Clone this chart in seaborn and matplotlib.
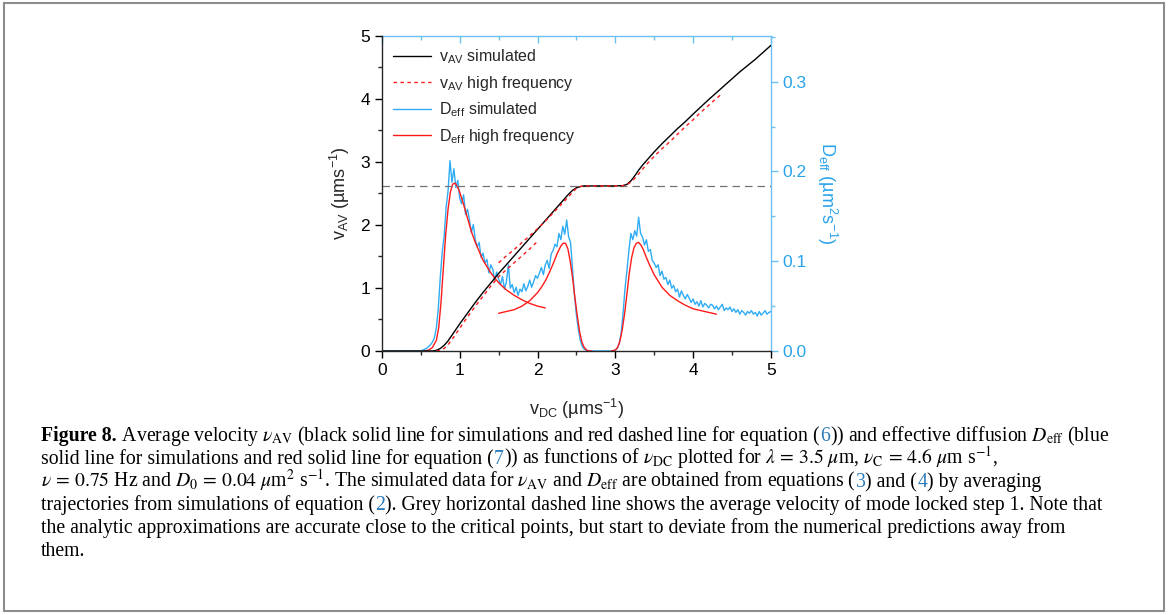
import numpy as np
import matplotlib
matplotlib.use("Agg")
import matplotlib.pyplot as plt
import seaborn as sns
from matplotlib.ticker import MultipleLocator
from matplotlib.lines import Line2D
from matplotlib.patches import Rectangle

# ---- data ----
# average velocity, simulated (black)
vav_sim_x = [0.0, 0.5, 0.6, 0.65, 0.7, 0.75, 0.8, 0.85, 0.9, 0.95, 1.0, 1.1, 1.2, 1.3, 1.4,
             1.5, 1.6, 1.7, 1.8, 1.9, 2.0, 2.1, 2.2, 2.3, 2.35, 2.4, 2.45, 2.5, 2.55, 2.6,
             2.8, 3.0, 3.1, 3.15, 3.2, 3.25, 3.3, 3.35, 3.4, 3.5, 3.6, 3.7, 3.8, 3.9, 4.0,
             4.2, 4.4, 4.6, 4.8, 5.0]
vav_sim_y = [0.0, 0.0, 0.0, 0.0, 0.01, 0.04, 0.09, 0.16, 0.25, 0.34, 0.43, 0.60, 0.77, 0.93, 1.08,
             1.23, 1.37, 1.51, 1.65, 1.79, 1.93, 2.07, 2.21, 2.35, 2.42, 2.49, 2.55, 2.59, 2.61, 2.62,
             2.62, 2.62, 2.625, 2.645, 2.70, 2.78, 2.87, 2.95, 3.02, 3.16, 3.29, 3.41, 3.53, 3.64, 3.76,
             3.99, 4.21, 4.43, 4.63, 4.85]

# average velocity, high frequency approximation (red dashed), two branches
vav_hf1_x = [0.7, 0.75, 0.8, 0.85, 0.9, 0.95, 1.0, 1.1, 1.2, 1.3, 1.4, 1.5, 1.6, 1.7, 1.8, 1.9, 2.0]
vav_hf1_y = [0.0, 0.01, 0.04, 0.10, 0.18, 0.27, 0.36, 0.54, 0.71, 0.87, 1.03, 1.18, 1.29, 1.40, 1.51, 1.62, 1.74]
vav_hf2_x = [1.5, 1.6, 1.7, 1.8, 1.9, 2.0, 2.1, 2.2, 2.3, 2.4, 2.45, 2.5, 2.55, 2.6, 2.8, 3.0,
             3.1, 3.15, 3.2, 3.25, 3.3, 3.4, 3.5, 3.6, 3.7, 3.8, 3.9, 4.0, 4.1, 4.2, 4.3, 4.35]
vav_hf2_y = [1.40, 1.51, 1.61, 1.72, 1.83, 1.94, 2.06, 2.19, 2.32, 2.45, 2.52, 2.58, 2.61, 2.62, 2.62, 2.62,
             2.625, 2.64, 2.68, 2.74, 2.81, 2.96, 3.09, 3.21, 3.32, 3.44, 3.56, 3.67, 3.79, 3.90, 4.01, 4.06]

# effective diffusion, simulated (blue), sampled every 0.025 from 0 to 5
deff_sim_y = [
    0, 0, 0, 0, 0, 0, 0, 0, 0, 0,
    0, 0, 0, 0, 0, 0, 0, 0, 0, 0,
    0.000, 0.001, 0.002, 0.003, 0.005, 0.007, 0.010, 0.015, 0.026, 0.048,
    0.082, 0.110, 0.128, 0.160, 0.178, 0.212, 0.188, 0.203, 0.182, 0.190,
    0.170, 0.164, 0.174, 0.152, 0.158, 0.146, 0.132, 0.141, 0.124, 0.116,
    0.121, 0.104, 0.109, 0.098, 0.102, 0.087, 0.096, 0.091, 0.079, 0.088,
    0.080, 0.074, 0.083, 0.069, 0.077, 0.096, 0.070, 0.074, 0.065, 0.071,
    0.062, 0.069, 0.066, 0.075, 0.067, 0.072, 0.079, 0.071, 0.077, 0.084,
    0.081, 0.087, 0.093, 0.085, 0.096, 0.101, 0.092, 0.108, 0.112, 0.119,
    0.116, 0.131, 0.124, 0.139, 0.130, 0.146, 0.127, 0.121, 0.092, 0.062,
    0.040, 0.024, 0.012, 0.005, 0.002, 0.001, 0, 0, 0, 0,
    0, 0, 0, 0, 0, 0, 0, 0, 0, 0,
    0.001, 0.003, 0.008, 0.020, 0.042, 0.070, 0.090, 0.112, 0.131, 0.124,
    0.134, 0.128, 0.149, 0.131, 0.127, 0.118, 0.124, 0.111, 0.113, 0.101,
    0.098, 0.093, 0.096, 0.084, 0.089, 0.080, 0.082, 0.074, 0.079, 0.070,
    0.073, 0.066, 0.069, 0.060, 0.067, 0.062, 0.058, 0.063, 0.059, 0.054,
    0.058, 0.052, 0.055, 0.050, 0.056, 0.049, 0.053, 0.051, 0.048, 0.052,
    0.051, 0.047, 0.050, 0.046, 0.049, 0.052, 0.045, 0.048, 0.046, 0.049,
    0.044, 0.047, 0.043, 0.046, 0.041, 0.045, 0.043, 0.040, 0.044, 0.042,
    0.045, 0.041, 0.043, 0.039, 0.044, 0.040, 0.042, 0.045, 0.041, 0.043,
    0.044]
deff_sim_x = np.linspace(0, 5, len(deff_sim_y))

# effective diffusion, high frequency approximation (red solid), three pieces
deff_hf1_x = [0.55, 0.6, 0.65, 0.7, 0.73, 0.76, 0.79, 0.82, 0.85, 0.88, 0.91, 0.94, 0.97, 1.0,
              1.05, 1.1, 1.15, 1.2, 1.3, 1.4, 1.5, 1.6, 1.7, 1.8, 1.9, 2.0, 2.1]
deff_hf1_y = [0.0, 0.001, 0.004, 0.012, 0.026, 0.055, 0.093, 0.130, 0.158, 0.177, 0.186, 0.187, 0.183, 0.177,
              0.163, 0.148, 0.133, 0.121, 0.101, 0.087, 0.076, 0.068, 0.062, 0.057, 0.053, 0.050, 0.048]
deff_hf2_x = [1.5, 1.6, 1.7, 1.8, 1.9, 2.0, 2.05, 2.1, 2.15, 2.2, 2.25, 2.3, 2.33, 2.36, 2.39,
              2.42, 2.45, 2.48, 2.51, 2.54, 2.57, 2.6, 2.63, 2.66, 2.7]
deff_hf2_y = [0.042, 0.044, 0.046, 0.050, 0.056, 0.065, 0.071, 0.078, 0.087, 0.097, 0.108, 0.117, 0.120, 0.120, 0.114,
              0.100, 0.082, 0.060, 0.040, 0.022, 0.010, 0.004, 0.001, 0.0, 0.0]
deff_hf3_x = [2.95, 3.0, 3.03, 3.06, 3.09, 3.12, 3.15, 3.18, 3.21, 3.24, 3.27, 3.30, 3.33, 3.36,
              3.4, 3.45, 3.5, 3.6, 3.7, 3.8, 3.9, 4.0, 4.1, 4.2, 4.3]
deff_hf3_y = [0.0, 0.001, 0.004, 0.011, 0.024, 0.042, 0.064, 0.087, 0.104, 0.115, 0.120, 0.121, 0.118, 0.113,
              0.104, 0.094, 0.085, 0.071, 0.062, 0.056, 0.051, 0.047, 0.045, 0.043, 0.041]

lock_step_v = 2.62   # mode locked step 1

blue_line = '#30acf4'
blue_axis = '#6cc0f2'
blue_text = '#29a3ea'
red = '#ff1a1a'

sns.set_style('ticks')
plt.rcParams['font.family'] = ['Liberation Sans', 'DejaVu Sans']
plt.rcParams['mathtext.fontset'] = 'custom'
plt.rcParams['mathtext.rm'] = 'Liberation Sans'
plt.rcParams['mathtext.it'] = 'Liberation Sans:italic'
plt.rcParams['mathtext.bf'] = 'Liberation Sans:bold'

fig = plt.figure(figsize=(11.68, 6.15), dpi=100)
ax = fig.add_axes([0.327, 0.4293, 0.333, 0.5122])
ax2 = ax.twinx()
ax.set_zorder(ax2.get_zorder() + 1)
ax.patch.set_visible(False)

# right axis: diffusion
sns.lineplot(x=deff_sim_x, y=deff_sim_y, ax=ax2, color=blue_line, lw=1.0, estimator=None, sort=False)
for xs, ys in [(deff_hf1_x, deff_hf1_y), (deff_hf2_x, deff_hf2_y), (deff_hf3_x, deff_hf3_y)]:
    sns.lineplot(x=xs, y=ys, ax=ax2, color=red, lw=1.0, estimator=None, sort=False)

# left axis: velocity
ax.axhline(lock_step_v, color='0.45', lw=0.9, ls=(0, (6, 4)))
sns.lineplot(x=vav_sim_x, y=vav_sim_y, ax=ax, color='black', lw=1.0, estimator=None, sort=False)
for xs, ys in [(vav_hf1_x, vav_hf1_y), (vav_hf2_x, vav_hf2_y)]:
    sns.lineplot(x=xs, y=ys, ax=ax, color=red, lw=1.0, ls=(0, (2.5, 2.5)), estimator=None, sort=False)

ax.set_xlim(0, 5)
ax.set_ylim(0, 5)
ax2.set_ylim(0, 0.351)

ax.xaxis.set_major_locator(MultipleLocator(1))
ax.xaxis.set_minor_locator(MultipleLocator(0.5))
ax.yaxis.set_major_locator(MultipleLocator(1))
ax.yaxis.set_minor_locator(MultipleLocator(0.5))
ax2.yaxis.set_major_locator(MultipleLocator(0.1))
ax2.yaxis.set_minor_locator(MultipleLocator(0.05))
ax2.yaxis.set_major_formatter(matplotlib.ticker.FormatStrFormatter('%.1f'))

ax.tick_params(which='major', direction='out', length=5, width=1, labelsize=12.5, colors='black')
ax.tick_params(which='minor', direction='out', length=3, width=1)
ax2.tick_params(which='major', direction='out', length=5, width=1, labelsize=12.5,
                color=blue_axis, labelcolor=blue_text)
ax2.tick_params(which='minor', direction='out', length=3, width=1, color=blue_axis)

for side in ['top', 'right']:
    ax.spines[side].set_visible(False)
for side in ['left', 'bottom']:
    ax2.spines[side].set_visible(False)
    ax.spines[side].set_linewidth(1.0)
ax2.spines['right'].set_color(blue_axis)
ax2.spines['top'].set_color(blue_axis)
ax2.spines['right'].set_linewidth(1.0)
ax2.spines['top'].set_linewidth(1.0)

top = ax.secondary_xaxis('top')
top.xaxis.set_major_locator(MultipleLocator(1))
top.xaxis.set_minor_locator(MultipleLocator(0.5))
top.tick_params(which='major', direction='in', length=5, width=1, color=blue_axis, labeltop=False)
top.tick_params(which='minor', direction='in', length=3, width=1, color=blue_axis)
top.spines['top'].set_visible(False)

ax.set_xlabel('v$_{\\rm DC}$ (µms$^{-1}$)', fontsize=13, labelpad=14)
ax.set_ylabel('v$_{\\rm AV}$ (µms$^{-1}$)', fontsize=13, labelpad=6)
ax2.set_ylabel('D$_{\\rm eff}$ (µm$^{2}$s$^{-1}$)', fontsize=13, color=blue_text,
               rotation=270, va='bottom', labelpad=6)

handles = [Line2D([], [], color='black', lw=1.0),
           Line2D([], [], color=red, lw=1.0, ls=(0, (2.5, 2.5))),
           Line2D([], [], color=blue_line, lw=1.0),
           Line2D([], [], color=red, lw=1.0)]
labels = ['v$_{\\rm AV}$ simulated', 'v$_{\\rm AV}$ high frequency',
          'D$_{\\rm eff}$ simulated', 'D$_{\\rm eff}$ high frequency']
ax.legend(handles, labels, loc='upper left', frameon=False, fontsize=11.5,
          handlelength=2.4, handletextpad=0.45, labelspacing=0.48,
          borderaxespad=0.3, borderpad=0.4)

# border round the whole panel
fig.patches.append(Rectangle((0.003, 0.006), 0.994, 0.989, transform=fig.transFigure,
                             fill=False, edgecolor='0.55', lw=1.5))

# caption, drawn piece by piece so the equation numbers can be blue
cap_size = 14.2
cap_blue = '#2b7bba'
rend = fig.canvas.get_renderer()


def caption_line(parts, x0, y):
    x = x0
    for txt, color, weight in parts:
        t = fig.text(x, y, txt, fontsize=cap_size, color=color, fontweight=weight,
                     family=['Liberation Serif', 'DejaVu Serif'], math_fontfamily='stix',
                     va='baseline', ha='left')
        x += t.get_window_extent(renderer=rend).width / fig.bbox.width


k, b = 'black', 'normal'
caption = [
    [('Figure 8.', k, 'bold'),
     (' Average velocity $\\nu_{\\rm AV}$ (black solid line for simulations and red dashed line for equation (', k, b),
     ('6', cap_blue, b), (')) and effective diffusion $D_{\\rm eff}$ (blue', k, b)],
    [('solid line for simulations and red solid line for equation (', k, b), ('7', cap_blue, b),
     (')) as functions of $\\nu_{\\rm DC}$ plotted for $\\lambda\\,=\\,3.5\\ \\mu$m, $\\nu_{\\rm C}\\,=\\,4.6\\ \\mu$m s$^{-1}$,', k, b)],
    [('$\\nu\\,=\\,0.75$ Hz and $D_0\\,=\\,0.04\\ \\mu$m$^2$ s$^{-1}$. The simulated data for $\\nu_{\\rm AV}$ and $D_{\\rm eff}$ are obtained from equations (', k, b),
     ('3', cap_blue, b), (') and (', k, b), ('4', cap_blue, b), (') by averaging', k, b)],
    [('trajectories from simulations of equation (', k, b), ('2', cap_blue, b),
     ('). Grey horizontal dashed line shows the average velocity of mode locked step 1. Note that', k, b)],
    [('the analytic approximations are accurate close to the critical points, but start to deviate from the numerical predictions away from', k, b)],
    [('them.', k, b)],
]
for i, parts in enumerate(caption):
    caption_line(parts, 41 / 1168, 1 - (441 + 23 * i) / 615)

fig.savefig('out.png', dpi=100)
